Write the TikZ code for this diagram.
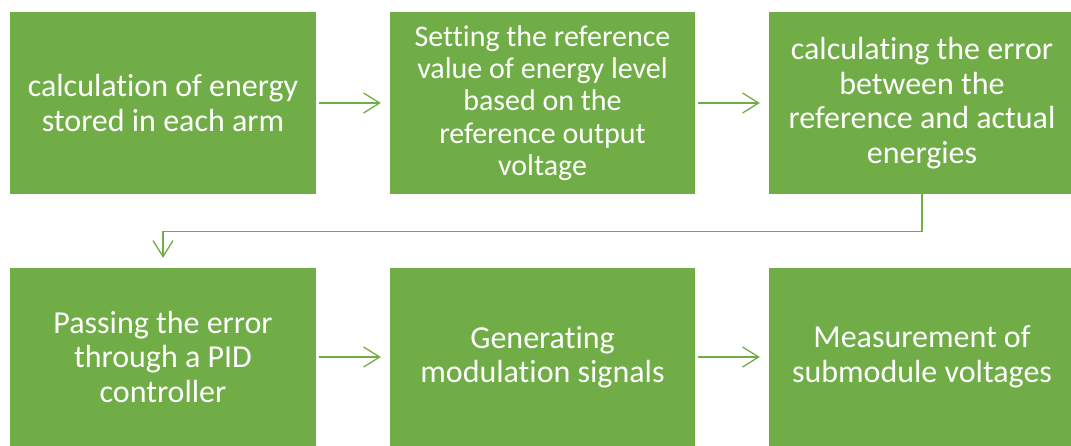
\documentclass[tikz,border=0pt]{standalone}
\usepackage{fontspec}
\setmainfont{Carlito}[Ligatures=NoCommon]
\usetikzlibrary{arrows.meta}
\definecolor{boxgreen}{HTML}{70AD47}
\tikzset{
  stage/.style={fill=boxgreen, draw=none, text=white, align=center, inner sep=0pt,
    font=\fontsize{32pt}{34.5pt}\selectfont},
  toprow/.style={minimum height=182pt},
  botrow/.style={minimum height=178pt},
  flow/.style={draw=boxgreen, line width=1.3pt,
    -{Straight Barb[length=16pt,width=20pt,line width=1.3pt]}}
}
\begin{document}
\begin{tikzpicture}[x=1pt,y=1pt]
\useasboundingbox (0,0) rectangle (1071,-446);
% first row of stages
\node[stage,toprow,minimum width=306pt] (b1) at (163,-103)
  {calculation of energy\\stored in each arm};
\node[stage,toprow,minimum width=305pt,font=\fontsize{30pt}{32.2pt}\selectfont] (b2) at (542.5,-103)
  {Setting the reference\\value of energy level\\based on the\\reference output\\voltage};
\node[stage,toprow,minimum width=306pt] (b3) at (922,-103)
  {calculating the error\\between the\\reference and actual\\energies};
% second row of stages
\node[stage,botrow,minimum width=306pt] (b4) at (163,-357)
  {Passing the error\\through a PID\\controller};
\node[stage,botrow,minimum width=305pt] (b5) at (542.5,-357)
  {Generating\\modulation signals};
\node[stage,botrow,minimum width=306pt] (b6) at (922,-357)
  {Measurement of\\submodule voltages};
% connectors
\draw[flow,shorten <=3pt,shorten >=9pt] (b1.east) -- (b2.west);
\draw[flow,shorten <=3pt,shorten >=9pt] (b2.east) -- (b3.west);
\draw[flow,shorten >=10pt] (b3.south) -- ++(0,-37) -| (b4.north);
\draw[flow,shorten <=3pt,shorten >=9pt] (b4.east) -- (b5.west);
\draw[flow,shorten <=3pt,shorten >=9pt] (b5.east) -- (b6.west);
\end{tikzpicture}
\end{document}
